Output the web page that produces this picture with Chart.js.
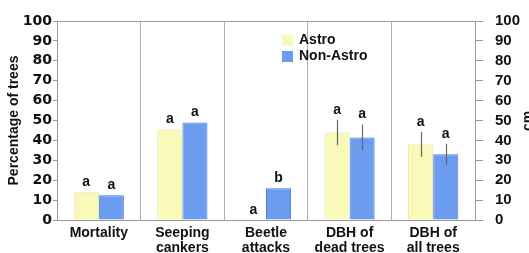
<!DOCTYPE html>
<html>
<head>
<meta charset="utf-8">
<script src="https://cdn.jsdelivr.net/npm/chart.js@4.4.1/dist/chart.umd.min.js"></script>
<style>
html,body{margin:0;padding:0;background:#fff;}
#wrap{width:529px;height:253px;position:relative;}
</style>
</head>
<body>
<div id="wrap"><canvas id="c" width="529" height="253"></canvas></div>
<script>
const categories = [["Mortality"], ["Seeping", "cankers"], ["Beetle", "attacks"], ["DBH of", "dead trees"], ["DBH of", "all trees"]];
const astroValues = [14, 45.5, 0, 44, 38];
const nonAstroValues = [12.5, 49, 16, 41.5, 33];
const astroErrors = [null, null, null, 6.4, 6.3];
const nonAstroErrors = [null, null, null, 6.5, 5.3];
const astroLetters = ["a", "a", "a", "a", "a"];
const nonAstroLetters = ["a", "a", "b", "a", "a"];
const yTicks = [0, 10, 20, 30, 40, 50, 60, 70, 80, 90, 100];
const seriesNames = ["Astro", "Non-Astro"];

const FONT = "'Liberation Sans', Arial, sans-serif";
const WIDE = "'DejaVu Sans', 'Liberation Sans', sans-serif";
const lineGray = '#9a9a9a';

const extras = {
  id: 'extras',
  afterDatasetsDraw(chart) {
    const ctx = chart.ctx;
    const y = chart.scales.y;
    const errs = [astroErrors, nonAstroErrors];
    const letters = [astroLetters, nonAstroLetters];
    chart.data.datasets.forEach((ds, di) => {
      const meta = chart.getDatasetMeta(di);
      meta.data.forEach((bar, i) => {
        const v = ds.data[i];
        const e = errs[di][i];
        let topPix = y.getPixelForValue(v);
        if (e != null) {
          const hi = y.getPixelForValue(v + e);
          const lo = y.getPixelForValue(v - e);
          ctx.save();
          ctx.strokeStyle = '#666';
          ctx.lineWidth = 1.2;
          ctx.beginPath();
          ctx.moveTo(Math.round(bar.x) + 0.5, hi);
          ctx.lineTo(Math.round(bar.x) + 0.5, lo);
          ctx.stroke();
          ctx.restore();
          topPix = hi;
        }
        ctx.save();
        ctx.fillStyle = '#111';
        ctx.font = "bold 14px " + FONT;
        ctx.textAlign = 'center';
        ctx.textBaseline = 'middle';
        ctx.fillText(letters[di][i], bar.x, topPix - 10);
        ctx.restore();
      });
    });
    // legend
    ctx.save();
    ctx.font = "bold 14px " + FONT;
    ctx.textBaseline = 'middle';
    ctx.textAlign = 'left';
    chart.data.datasets.forEach((ds, di) => {
      const cy = 40 + di * 16;
      ctx.fillStyle = ds.backgroundColor;
      ctx.fillRect(282, cy - 5, 11, 11);
      ctx.fillStyle = '#111';
      ctx.fillText(ds.label, 299, cy);
    });
    // right axis title
    ctx.translate(528, 121);
    ctx.rotate(-Math.PI / 2);
    ctx.textAlign = 'center';
    ctx.fillText('cm', 0, 0);
    ctx.restore();
  }
};

new Chart(document.getElementById('c'), {
  type: 'bar',
  data: {
    labels: categories,
    datasets: [
      { label: seriesNames[0], data: astroValues, backgroundColor: '#f9f9b9', borderColor: '#e4e4a0', borderWidth: 1, yAxisID: 'y' },
      { label: seriesNames[1], data: nonAstroValues, backgroundColor: '#6b9cf0', borderColor: '#4d7fd8', borderWidth: 1, yAxisID: 'y' }
    ]
  },
  options: {
    responsive: false,
    animation: false,
    devicePixelRatio: 1,
    layout: { padding: { top: 16, left: 0, right: 0, bottom: 0 } },
    plugins: { legend: { display: false }, tooltip: { enabled: false } },
    datasets: { bar: { categoryPercentage: 0.6, barPercentage: 1.0 } },
    scales: {
      x: {
        afterFit(s) { s.height = 33; },
        grid: { offset: true, color: '#b0b0b0', drawTicks: false, lineWidth: 1 },
        border: { display: true, color: lineGray },
        ticks: { color: '#111', font: { family: FONT, weight: 'bold', size: 14, lineHeight: 1.05 }, padding: 6, maxRotation: 0, autoSkip: false }
      },
      y: {
        position: 'left',
        min: 0, max: 100,
        afterFit(s) { s.width = 57; },
        afterBuildTicks(s) { s.ticks = yTicks.map(v => ({ value: v })); },
        grid: {
          color: (c) => (c.tick && c.tick.value === 100) ? lineGray : 'rgba(0,0,0,0)',
          tickColor: lineGray, tickLength: 4, drawTicks: true
        },
        border: { display: true, color: lineGray },
        ticks: { color: '#111', font: { family: WIDE, weight: 'bold', size: 14 }, padding: 1, autoSkip: false },
        title: { display: true, text: 'Percentage of trees', color: '#111', font: { family: FONT, weight: 'bold', size: 14 }, padding: { top: 6, bottom: 0 } }
      },
      y2: {
        position: 'right',
        min: 0, max: 100,
        afterFit(s) { s.width = 54; },
        afterBuildTicks(s) { s.ticks = yTicks.map(v => ({ value: v })); },
        grid: { drawOnChartArea: false, color: lineGray, tickLength: 8 },
        border: { display: true, color: lineGray },
        ticks: { color: '#111', font: { family: FONT, weight: 'bold', size: 15 }, padding: 12, autoSkip: false }
      }
    }
  },
  plugins: [extras]
});
</script>
</body>
</html>
